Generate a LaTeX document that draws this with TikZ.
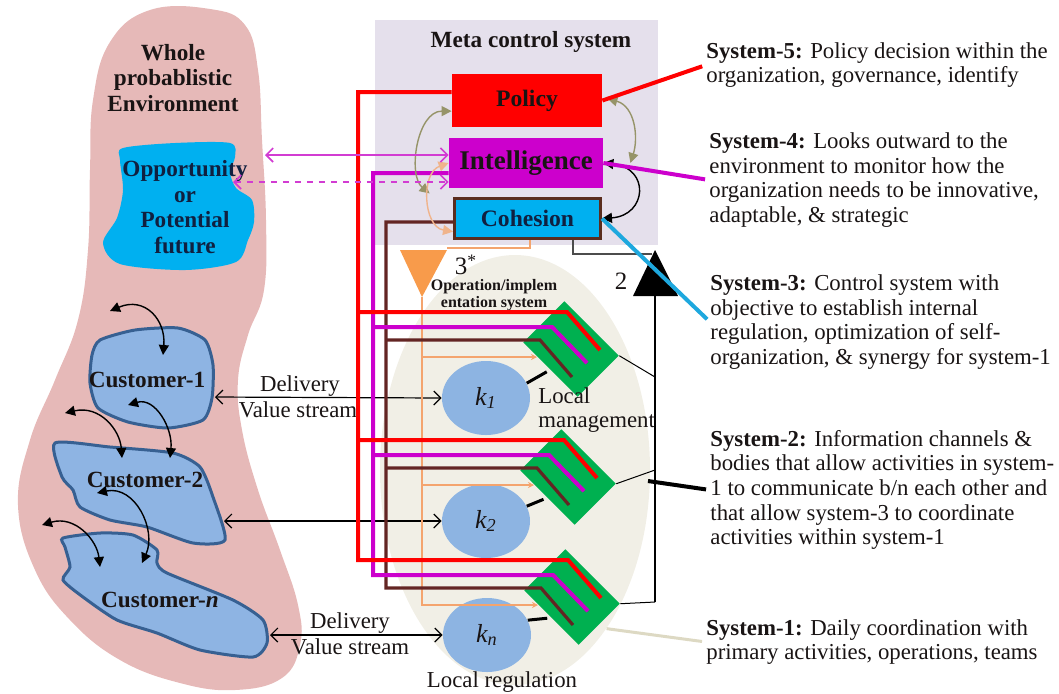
\documentclass[tikz,border=0pt]{standalone}
\usepackage{fontspec}
\setmainfont{Liberation Serif}
\usepackage{xcolor}
\usetikzlibrary{positioning, arrows.meta, shapes.geometric}
\definecolor{EnvPink}{RGB}{230,185,184}
\definecolor{OppCyan}{RGB}{0,176,240}
\definecolor{OppInk}{RGB}{16,32,64}
\definecolor{CustBlue}{RGB}{142,180,227}
\definecolor{CustEdge}{RGB}{55,96,146}
\definecolor{MetaLilac}{RGB}{229,224,236}
\definecolor{PolRed}{RGB}{255,0,0}
\definecolor{IntMag}{RGB}{204,0,204}
\definecolor{LinkMag}{RGB}{210,60,210}
\definecolor{CohEdge}{RGB}{90,45,30}
\definecolor{BusBrown}{RGB}{99,37,35}
\definecolor{BusOrange}{RGB}{244,164,110}
\definecolor{TriOrange}{RGB}{248,155,75}
\definecolor{ArcOlive}{RGB}{150,148,105}
\definecolor{ArcTan}{RGB}{240,180,140}
\definecolor{OpsBeige}{RGB}{241,239,230}
\definecolor{DiaGreen}{RGB}{0,176,80}
\definecolor{KBlue}{RGB}{141,180,226}
\definecolor{LinkCyan}{RGB}{30,168,222}
\definecolor{TanLine}{RGB}{221,217,195}
\definecolor{Ink}{RGB}{25,20,20}

\begin{document}
\begin{tikzpicture}[x=0.5pt, y=-0.5pt,
    every node/.style={font=\fontsize{11.4}{12.3}\selectfont, text=Ink, inner sep=0pt},
    boldlbl/.style={font=\fontsize{11.6}{12.8}\selectfont\bfseries, align=center},
    sysbox/.style={minimum width=75pt, font=\fontsize{11.8}{12}\selectfont\bfseries},
    custblob/.style={fill=CustBlue, draw=CustEdge, line width=1.5pt},
    kell/.style={ellipse, fill=KBlue, minimum width=44pt, minimum height=37pt, font=\fontsize{13}{13}\selectfont\itshape},
    dia/.style={rectangle, fill=DiaGreen, rotate=-45, minimum width=38.5pt, minimum height=29pt},
    redbus/.style={PolRed, line width=2pt},
    magbus/.style={IntMag, line width=2pt},
    brnbus/.style={BusBrown, line width=1.6pt},
    orgbus/.style={BusOrange, line width=0.6pt},
    swirl/.style={line width=0.7pt, {Triangle[length=5pt,width=5pt]}-{Triangle[length=5pt,width=5pt]}},
    valarrow/.style={line width=0.6pt, {Straight Barb[length=3.5pt,width=7pt]}-{Straight Barb[length=3.5pt,width=7pt]}},
    magarrow/.style={LinkMag, line width=0.8pt, {Straight Barb[length=3.5pt,width=7pt]}-{Straight Barb[length=3.5pt,width=7pt]}},
    systext/.style={anchor=west, align=left}]
  \useasboundingbox (0,0) rectangle (1059,693);

  \node[ellipse, fill=OpsBeige, minimum width=135pt, minimum height=215pt] (opsys) at (515,470) {};
  \node[fill=MetaLilac, minimum width=141.5pt, minimum height=112.5pt] (meta) at (516.5,132.5) {};
  \node[boldlbl] (metatitle) at (531,42) {Meta control system};

  \fill[EnvPink] plot[smooth cycle, tension=0.7] coordinates {(150,10) (210,9) (245,25) (258,70) (262,140)
    (266,220) (264,290) (248,335) (238,380) (242,430) (258,490) (280,550) (298,605) (300,645) (282,678)
    (235,690) (180,683) (120,660) (70,620) (35,570) (18,505) (30,440) (55,380) (78,320) (88,250)
    (90,170) (93,100) (110,42)};
  \fill[OppCyan] plot[smooth cycle, tension=0.5] coordinates {(123,148) (175,143) (230,143) (235,157)
    (230,172) (236,188) (252,200) (254,222) (248,240) (236,262) (185,270) (120,264) (103,243)
    (117,218) (123,190) (120,160)};
  \draw[custblob] plot[smooth cycle, tension=0.4] coordinates {(100,340) (135,330) (178,328) (205,340)
    (213,365) (212,398) (203,420) (168,428) (128,422) (98,408) (90,383) (92,355)};
  \draw[custblob] plot[smooth cycle, tension=0.4] coordinates {(55,443) (110,447) (173,453) (200,467)
    (213,497) (225,540) (193,543) (147,527) (110,520) (80,507) (73,490) (62,477)};
  \draw[custblob] plot[smooth cycle, tension=0.4] coordinates {(63,538) (100,533) (133,535) (157,550)
    (157,563) (167,573) (233,600) (263,620) (267,643) (253,657) (200,650) (157,633) (117,620)
    (83,597) (63,580) (70,567) (65,547)};

  \node[boldlbl] (env) at (173,78) {Whole\\probablistic\\Environment};
  \node[boldlbl, text=OppInk] (opp) at (185,207) {Opportunity\\or\\Potential\\future};
  \node[boldlbl] (cust1) at (147,380) {Customer-1};
  \node[boldlbl] (cust2) at (145,480) {Customer-2};
  \node[boldlbl] (custn) at (160,600) {Customer-\textit{n}};

  \draw[swirl] (110,311) .. controls (145,296) and (166,320) .. (163,355);
  \draw[swirl] (128,405) .. controls (155,397) and (173,428) .. (170,458);
  \draw[swirl] (65,413) .. controls (100,405) and (120,430) .. (122,458);
  \draw[swirl] (97,493) .. controls (135,485) and (157,530) .. (142,563);
  \draw[swirl] (42,525) .. controls (75,515) and (97,540) .. (100,567);

  \node[sysbox, fill=PolRed, minimum height=26.5pt] (pol) at (527,100.5) {Policy};
  \node[sysbox, fill=IntMag, minimum width=77pt, minimum height=25pt, font=\fontsize{13.5}{12}\selectfont\bfseries] (int) at (526,163) {Intelligence};
  \node[sysbox, fill=OppCyan, draw=CohEdge, line width=1.5pt, minimum width=73pt, minimum height=20pt, text=OppInk] (coh) at (527.5,218.5) {Cohesion};

  \fill[TriOrange] (400,250) -- (447,250) -- (422,297) -- cycle;
  \coordinate (otop) at (422,297);
  \coordinate (c3) at (530,248);
  \node[font=\fontsize{12.5}{12}\selectfont] (three) at (466,265) {3\textsuperscript{*}};
  \fill (633,296) -- (678,296) -- (655,250) -- cycle;
  \coordinate (tbase) at (655,296);
  \coordinate (c2) at (573,254);
  \coordinate (t2l) at (652,254);
  \node[font=\fontsize{12.5}{12}\selectfont] (two) at (621,281) {2};
  \node[font=\fontsize{8}{8.5}\selectfont\bfseries, align=center] (opslbl) at (494,295) {Operation/implem\\entation system};

  \foreach \i/\s/\kx/\ky/\dx/\dy in {1/1/486/398/571/349, 2/2/486/521/568/477, 3/n/487/635/572/597} {
    \node[kell] (k\i) at (\kx,\ky) {k\textsubscript{\s}};
    \node[dia] (d\i) at (\dx,\dy) {};
    \coordinate (r\i) at ([shift={(-4,-37)}]d\i.center);
    \coordinate (m\i) at ([shift={(-19,-22)}]d\i.center);
    \coordinate (b\i) at ([shift={(-31,-9)}]d\i.center);
    \coordinate (o\i) at ([shift={(-34,8)}]d\i.center);
  }
  \node[anchor=north west, align=left] (locman) at (538,387) {Local\\management};
  \node (locreg) at (502,682) {Local regulation};

  \coordinate (cu1) at (215,397);
  \coordinate (cu2) at (224,521);
  \coordinate (cu3) at (270,635);
  \draw[valarrow] (cu1) -- (k1.west);
  \draw[valarrow] (cu2) -- (k2.west);
  \draw[valarrow] (cu3) -- (k3.west);
  \node (del1) at (300,386) {Delivery};
  \node (val1) at (298,410) {Value stream};
  \node (del3) at (350,623) {Delivery};
  \node (val3) at (350,647) {Value stream};

  \coordinate (rtop) at (358,92);
  \coordinate (mtop) at (373,173);
  \coordinate (btop) at (386,222);
  \draw[orgbus] (coh.south -| c3) -- (c3) -- (447,248);
  \draw[orgbus, -{Stealth[length=3pt,width=3pt]}] (otop) |- (o3);
  \foreach \i in {1,2}
    \draw[orgbus, -{Stealth[length=3pt,width=3pt]}] (otop |- o\i) -- (o\i);
  \draw[brnbus] (coh.west |- btop) -- (btop) |- (b3) -- ++(32,37);
  \foreach \i in {1,2}
    \draw[brnbus] (btop |- b\i) -- (b\i) -- ++(32,37);
  \draw[magbus] (int.west |- mtop) -- (mtop) |- (m3) -- ++(35,36);
  \foreach \i in {1,2}
    \draw[magbus] (mtop |- m\i) -- (m\i) -- ++(35,36);
  \draw[redbus] (pol.west |- rtop) -- (rtop) |- (r3) -- ++(33,38);
  \foreach \i in {1,2}
    \draw[redbus] (rtop |- r\i) -- (r\i) -- ++(33,38);

  \foreach \i in {1,2,3}
    \draw[line width=1.5pt, shorten >=2pt] (k\i.20) -- (d\i.south);
  \coordinate (v1) at (655,377);
  \coordinate (v2) at (655,470);
  \coordinate (v3) at (655,602);
  \draw[line width=0.6pt, gray!60!black] (coh.south -| c2) -- (c2) -- (t2l);
  \draw[line width=0.6pt] (tbase) -- (v3);
  \foreach \i in {1,2,3}
    \draw[line width=0.5pt] (d\i.north east) -- (v\i);

  \draw[swirl, ArcOlive] (pol.188) .. controls +(-35,0) and +(-22,-18) .. ([shift={(-19,5)}]int.south west);
  \draw[swirl, ArcOlive] ([shift={(5,-2)}]pol.east) .. controls +(28,8) and +(8,-25) .. ([shift={(27,0)}]int.east);
  \draw[swirl, ArcTan] (int.west) .. controls +(-28,10) and +(-30,-5) .. (coh.190);
  \draw[swirl] (int.east) .. controls +(47,5) and +(45,-3) .. (coh.east);

  \coordinate (op1) at (265,155);
  \coordinate (op2) at (233,182);
  \draw[magarrow] (op1) -- (int.west |- op1);
  \draw[magarrow, dashed] (op2) -- (int.west |- op2);

  \node[systext] (s5) at (706,65) {\textbf{System-5:} Policy decision within the\\organization, governance, identify};
  \node[systext] (s4) at (709,180) {\textbf{System-4:} Looks outward to the\\environment to monitor how the\\organization needs to be innovative,\\adaptable, \& strategic};
  \node[systext] (s3) at (710,322) {\textbf{System-3:} Control system with\\objective to establish internal\\regulation, optimization of self-\\organization, \& synergy for system-1};
  \node[systext] (s2) at (710,490) {\textbf{System-2:} Information channels \&\\bodies that allow activities in system-\\1 to communicate b/n each other and\\that allow system-3 to coordinate\\activities within system-1};
  \node[systext] (s1) at (706,642) {\textbf{System-1:} Daily coordination with\\primary activities, operations, teams};
  \coordinate (s2link) at (648,481);
  \draw[PolRed, line width=2pt, shorten >=2pt] (pol.east) -- (s5.west);
  \draw[IntMag, line width=2pt, shorten >=2pt] (int.east) -- (s4.west);
  \draw[LinkCyan, line width=2pt, shorten >=2pt] (coh.east) -- (s3.west);
  \draw[line width=2pt, shorten >=2pt] (s2link) -- (s2.west);
  \draw[TanLine, line width=1.5pt, shorten >=2pt] (opsys.-60) -- (s1.west);
\end{tikzpicture}
\end{document}
